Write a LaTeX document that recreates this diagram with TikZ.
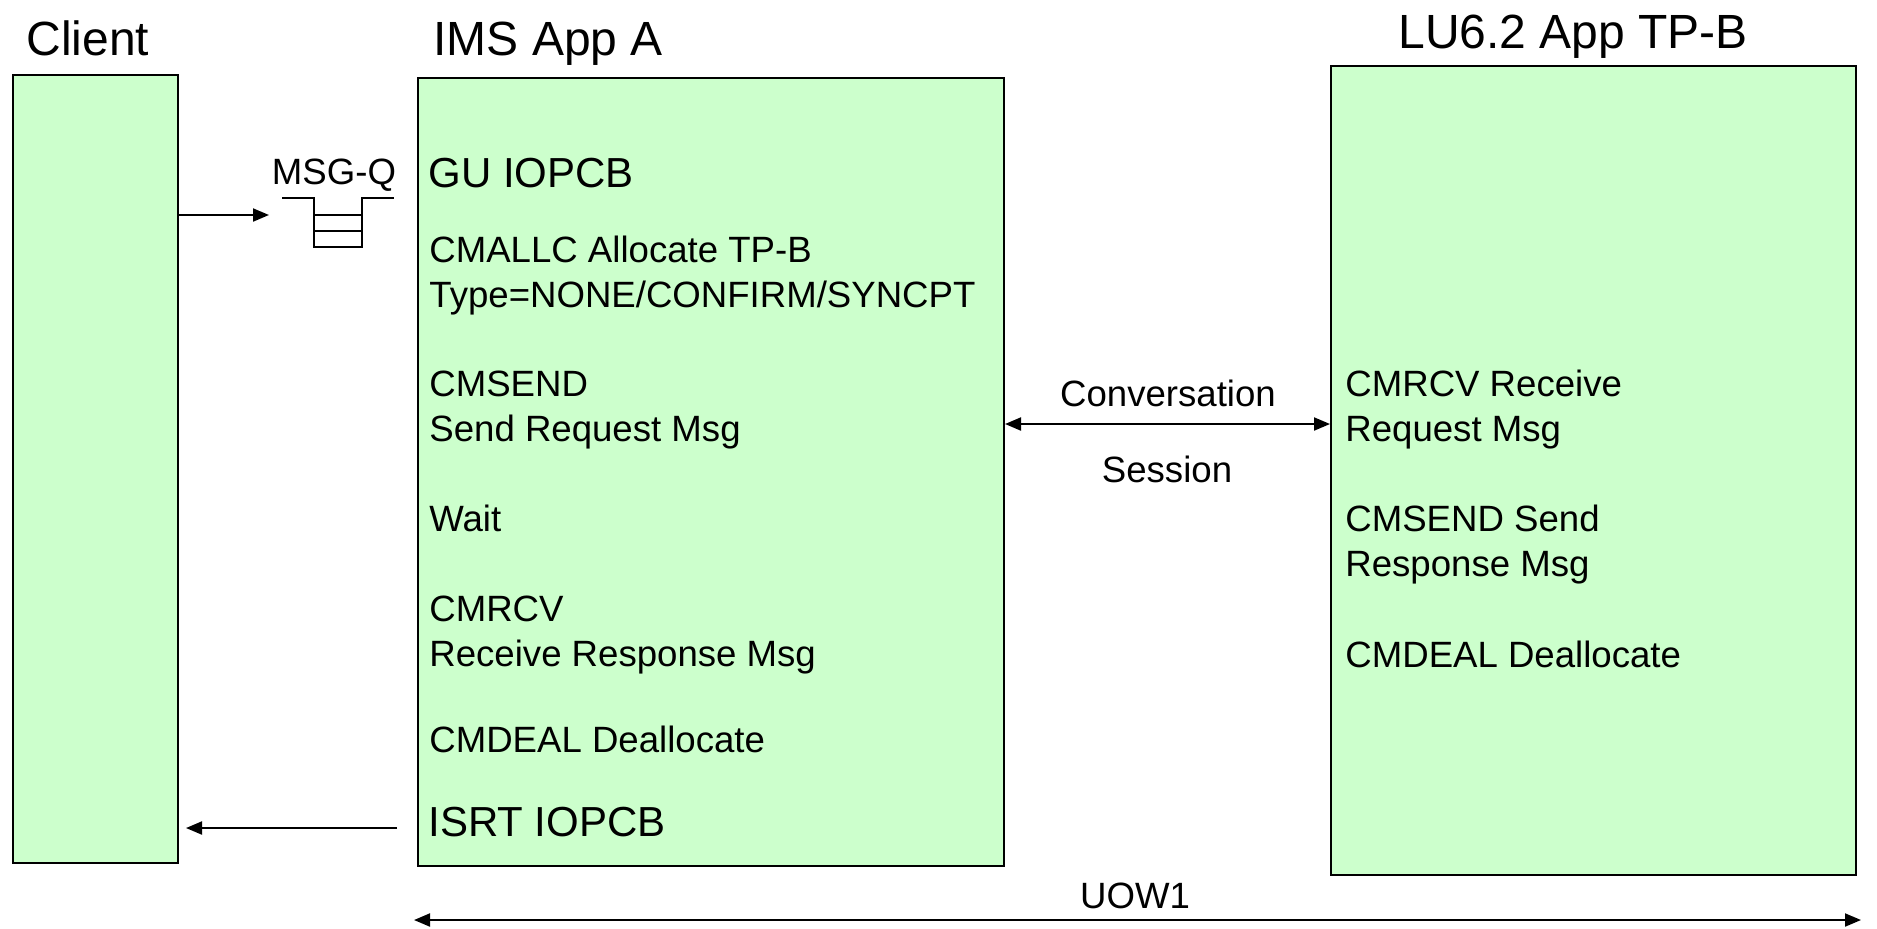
\documentclass[tikz,border=0pt]{standalone}
\usepackage{fontspec}
\setmainfont{Liberation Sans}
\usetikzlibrary{arrows.meta}
\definecolor{boxgreen}{HTML}{CCFFCC}
\begin{document}
\begin{tikzpicture}[x=0.5pt,y=-0.5pt,
  box/.style={draw=black, line width=1pt, fill=boxgreen, inner sep=0pt, anchor=north west},
  title/.style={font=\fontsize{24}{28}\selectfont, inner sep=0pt, anchor=base west},
  body/.style={font=\fontsize{18.3}{22}\selectfont, inner sep=0pt, anchor=base west},
  cbody/.style={font=\fontsize{18.3}{22}\selectfont, inner sep=0pt, anchor=base},
  big/.style={font=\fontsize{21}{25}\selectfont, inner sep=0pt, anchor=base west},
  arr/.style={line width=1pt, -{Triangle[length=8pt,width=6.5pt]}},
  darr/.style={line width=1pt, {Triangle[length=8pt,width=6.5pt]}-{Triangle[length=8pt,width=6.5pt]}},
  qline/.style={line width=0.75pt}]
\useasboundingbox (0,0) rectangle (1877,928);

% boxes
\node[box, minimum width=82.5pt, minimum height=394pt] (client) at (12,74) {};
\node[box, minimum width=293pt, minimum height=394pt] (ims) at (417,77) {};
\node[box, minimum width=262.5pt, minimum height=404.5pt] (lu) at (1330,65) {};

% titles
\node[title] (tclient) at (26,55) {Client};
\node[title] (tims) at (433,55) {IMS App A};
\node[title] (tlu) at (1398,48) {LU6.2 App TP-B};

% IMS texts
\node[big] (gu) at (428,187) {GU IOPCB};
\node[body] (a1) at (429,262) {CMALLC Allocate TP-B};
\node[body] (a2) at (429,307) {Type=NONE/CONFIRM/SYNCPT};
\node[body] (a3) at (429,396) {CMSEND};
\node[body] (a4) at (429,441) {Send Request Msg};
\node[body] (a5) at (429,531) {Wait};
\node[body] (a6) at (429,621) {CMRCV};
\node[body] (a7) at (429,666) {Receive Response Msg};
\node[body] (a8) at (429,752) {CMDEAL Deallocate};
\node[big] (isrt) at (428,836) {ISRT IOPCB};

% LU texts
\node[body] (b1) at (1345,396) {CMRCV Receive};
\node[body] (b2) at (1345,441) {Request Msg};
\node[body] (b3) at (1345,531) {CMSEND Send};
\node[body] (b4) at (1345,576) {Response Msg};
\node[body] (b5) at (1345,667) {CMDEAL Deallocate};

% middle labels
\node[cbody] (conv) at (1168,406) {Conversation};
\node[cbody] (sess) at (1167,482) {Session};
\node[cbody] (uow) at (1135,908) {UOW1};
\node[cbody] (msgq) at (334,184) {MSG-Q};

% queue icon
\draw[qline] (282,198) -- (314,198) -- (314,247) -- (362,247) -- (362,198) -- (394,198);
\draw[qline] (314,215) -- (362,215);
\draw[qline] (314,231) -- (362,231);

% connectors
\coordinate (qin) at (269,215);
\draw[arr] (client.east |- qin) -- (qin);
\coordinate (rstart) at (397,828);
\coordinate (rend) at (186,828);
\draw[arr] (rstart) -- (rend);
\coordinate (cv) at (1160,424);
\draw[darr] (ims.east |- cv) -- (lu.west |- cv);
\coordinate (u1) at (414,920);
\coordinate (u2) at (1861,920);
\draw[darr] (u1) -- (u2);
\end{tikzpicture}
\end{document}
